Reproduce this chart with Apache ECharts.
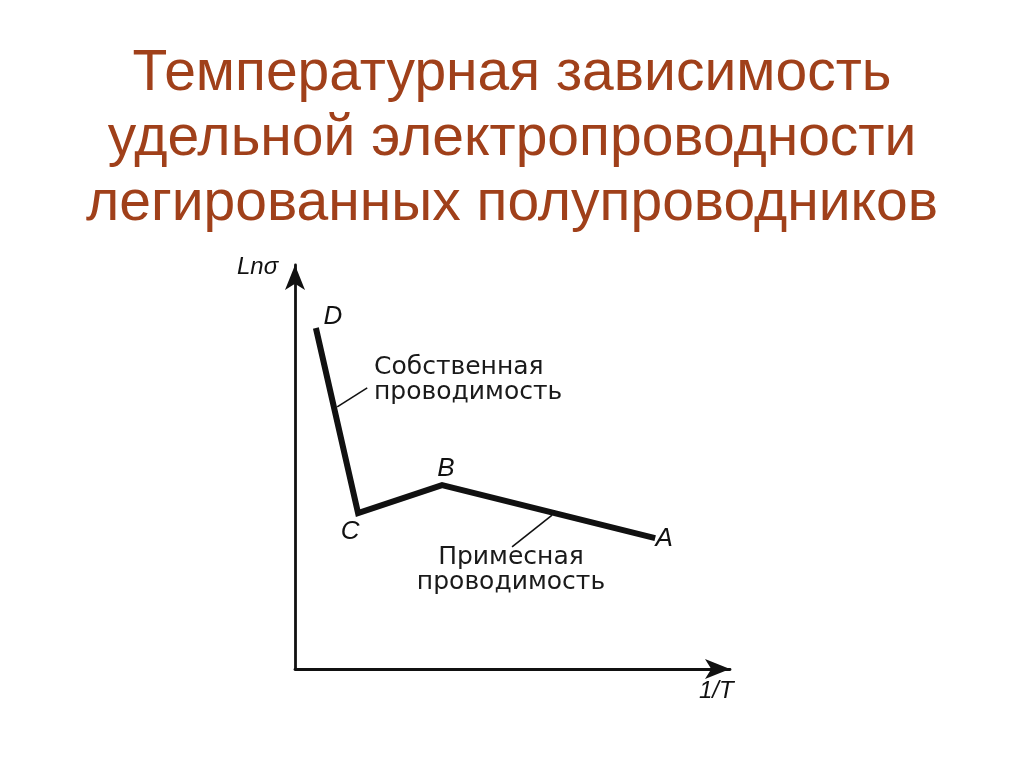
<!DOCTYPE html>
<html>
	<head>
		<meta charset="utf-8">
		<title>Температурная зависимость</title>
		<script src="https://cdn.jsdelivr.net/npm/echarts@6/dist/echarts.min.js"></script>
		<style>
			html, body { margin: 0; padding: 0; background: #fff; }
		</style>
	</head>
	<body>
		<div id="box" style="width: 1024px;height: 767px;"></div>
		<script>
			// точки ломаной (1/T, Lnσ) в условных единицах
			var pointNames = ['D', 'C', 'B', 'A']
			var invT = [0.48, 1.45, 3.38, 8.28]
			var lnSigma = [8.44, 3.86, 4.55, 3.24]

			// выноски к подписям участков
			var intrinsicLeader = [[0.97, 6.49], [1.66, 6.96]]
			var impurityLeader = [[5.91, 3.81], [4.99, 3.02]]

			var titleLines = ['Температурная зависимость', 'удельной электропроводности', 'легированных полупроводников']
			var intrinsicText = ['Собственная', 'проводимость']
			var impurityText = ['Примесная', 'проводимость']

			// смещения букв относительно точек, px
			var labelOffsets = [[17, -11], [-8, 19], [4, -16], [9, 1]]

			var curve = invT.map(function(x, i) {
				return [x, lnSigma[i]]
			})
			var letters = invT.map(function(x, i) {
				return {
					value: [x, lnSigma[i]],
					name: pointNames[i],
					label: { offset: labelOffsets[i] }
				}
			})

			var mCharts = echarts.init(document.querySelector('#box'))
			var axisLine = {
				show: true,
				symbol: ['none', 'arrow'],
				symbolSize: [15, 25],
				lineStyle: { color: '#111', width: 2.8 }
			}
			var option = {
				backgroundColor: '#fff',
				animation: false,
				grid: { left: 295, right: 294, top: 265, bottom: 98 },
				xAxis: {
					type: 'value', min: 0, max: 10,
					axisLine: axisLine,
					axisTick: { show: false },
					axisLabel: { show: false },
					splitLine: { show: false }
				},
				yAxis: {
					type: 'value', min: 0, max: 10,
					axisLine: axisLine,
					axisTick: { show: false },
					axisLabel: { show: false },
					splitLine: { show: false }
				},
				graphic: [
					{
						type: 'text', x: 512, y: 42,
						style: {
							text: titleLines.join('\n'),
							font: '57px "Liberation Sans"',
							lineHeight: 65,
							align: 'center',
							fill: '#A0401A'
						}
					},
					{ type: 'text', x: 237, y: 255, style: { text: 'Lnσ', font: 'italic 24px "Liberation Sans"', fill: '#111' } },
					{ type: 'text', x: 699, y: 679, style: { text: '1/T', font: 'italic 24px "Liberation Sans"', fill: '#111' } },
					{ type: 'text', x: 374, y: 355, style: { text: intrinsicText.join('\n'), font: '25px "DejaVu Sans"', lineHeight: 25, fill: '#1a1a1a' } },
					{ type: 'text', x: 511, y: 545, style: { text: impurityText.join('\n'), font: '25px "DejaVu Sans"', lineHeight: 25, align: 'center', fill: '#1a1a1a' } }
				],
				series: [
					{
						type: 'line',
						data: curve,
						symbol: 'none',
						lineStyle: { color: '#111', width: 6, join: 'miter', cap: 'butt' },
						markLine: {
							silent: true,
							symbol: 'none',
							label: { show: false },
							lineStyle: { color: '#111', width: 1.6, type: 'solid' },
							data: [
								[{ coord: intrinsicLeader[0] }, { coord: intrinsicLeader[1] }],
								[{ coord: impurityLeader[0] }, { coord: impurityLeader[1] }]
							]
						}
					},
					{
						type: 'scatter',
						data: letters,
						symbolSize: 1,
						itemStyle: { color: 'rgba(0,0,0,0)', opacity: 1 },
						label: {
							show: true,
							position: 'inside',
							formatter: '{b}',
							fontFamily: 'Liberation Sans',
							fontStyle: 'italic',
							fontSize: 26,
							color: '#111',
							textBorderWidth: 0
						}
					}
				]
			}
			mCharts.setOption(option)
		</script>
	</body>
</html>
